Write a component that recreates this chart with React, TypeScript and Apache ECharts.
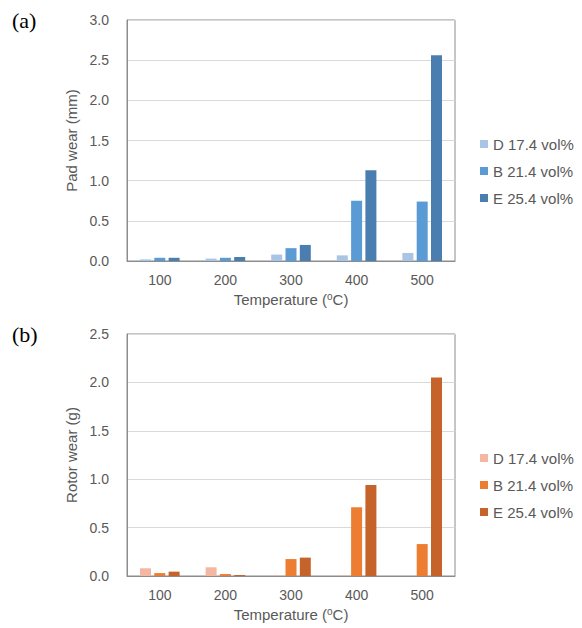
import React, { useEffect, useRef } from "react";
import * as echarts from "echarts";

const categories = ["100", "200", "300", "400", "500"];
const seriesNames = ["D 17.4 vol%", "B 21.4 vol%", "E 25.4 vol%"];
const padD = [0.02, 0.03, 0.08, 0.07, 0.1];
const padB = [0.04, 0.04, 0.16, 0.75, 0.74];
const padE = [0.04, 0.05, 0.2, 1.13, 2.56];
const rotorD = [0.08, 0.09, 0.005, 0.005, 0];
const rotorB = [0.03, 0.02, 0.175, 0.71, 0.33];
const rotorE = [0.045, 0.01, 0.19, 0.94, 2.05];
const blueColors = ["#a9c4e5", "#5b9bd5", "#4a7eb0"];
const orangeColors = ["#f4b8a2", "#ed7d31", "#c5632a"];

const FONT = "Liberation Sans";
const TXT = "#595959";

function buildOption(
  panel: string,
  yName: string,
  yMax: number,
  gridHeight: number,
  data: number[][],
  colors: string[]
) {
  return {
    animation: false,
    textStyle: { fontFamily: FONT },
    graphic: [
      {
        type: "text",
        left: 12,
        top: 9,
        style: { text: panel, font: '22px "Liberation Serif"', fill: "#000" },
      },
    ],
    grid: {
      left: 127,
      top: 20,
      width: 328,
      height: gridHeight,
      show: true,
      borderColor: "#8c8c8c",
      borderWidth: 1,
      backgroundColor: "transparent",
    },
    legend: {
      orient: "vertical",
      left: 475,
      top: 131,
      icon: "rect",
      itemWidth: 8,
      itemHeight: 8,
      itemGap: 11,
      itemTextGap: 4,
      textStyle: { fontFamily: FONT, fontSize: 15, color: TXT, lineHeight: 16 },
      data: seriesNames,
    },
    xAxis: {
      type: "category",
      data: categories,
      axisLine: { lineStyle: { color: "#8c8c8c" } },
      axisTick: { show: false },
      axisLabel: { color: TXT, fontSize: 14, margin: 12, fontFamily: FONT },
      name: "Temperature ({sup|o}C)",
      nameLocation: "middle",
      nameGap: 29,
      nameTextStyle: {
        color: TXT,
        fontSize: 15,
        fontFamily: FONT,
        rich: { sup: { fontSize: 10, verticalAlign: "top", color: TXT, fontFamily: FONT, padding: [0, 0, 6, 0] } },
      },
    },
    yAxis: {
      type: "value",
      min: 0,
      max: yMax,
      interval: 0.5,
      axisLine: { show: true, lineStyle: { color: "#8c8c8c" } },
      axisTick: { show: false },
      splitLine: { lineStyle: { color: "#d9d9d9" } },
      axisLabel: {
        color: TXT,
        fontSize: 14,
        margin: 18,
        fontFamily: FONT,
        formatter: (v: number) => v.toFixed(1),
      },
      name: yName,
      nameLocation: "middle",
      nameGap: 42,
      nameTextStyle: { color: TXT, fontSize: 15, fontFamily: FONT },
    },
    series: data.map((d, i) => ({
      type: "bar",
      name: seriesNames[i],
      data: d,
      barWidth: 11,
      barGap: "30%",
      itemStyle: { color: colors[i] },
    })),
  };
}

function Chart({ option, top }: { option: any; top: number }) {
  const ref = useRef<HTMLDivElement>(null);
  useEffect(() => {
    if (!ref.current) return;
    const chart = echarts.init(ref.current, undefined, { renderer: "svg" });
    chart.setOption(option);
    return () => chart.dispose();
  }, [option]);
  return (
    <div
      ref={ref}
      style={{ position: "absolute", left: 0, top, width: 582, height: 314 }}
    />
  );
}

const optA = buildOption("(a)", "Pad wear (mm)", 3, 241, [padD, padB, padE], blueColors);
const optB = buildOption("(b)", "Rotor wear (g)", 2.5, 242, [rotorD, rotorB, rotorE], orangeColors);

export default function App() {
  return (
    <div style={{ position: "fixed", left: 0, top: 0, width: 582, height: 628, background: "#fff" }}>
      <Chart option={optA} top={0} />
      <Chart option={optB} top={314} />
    </div>
  );
}
